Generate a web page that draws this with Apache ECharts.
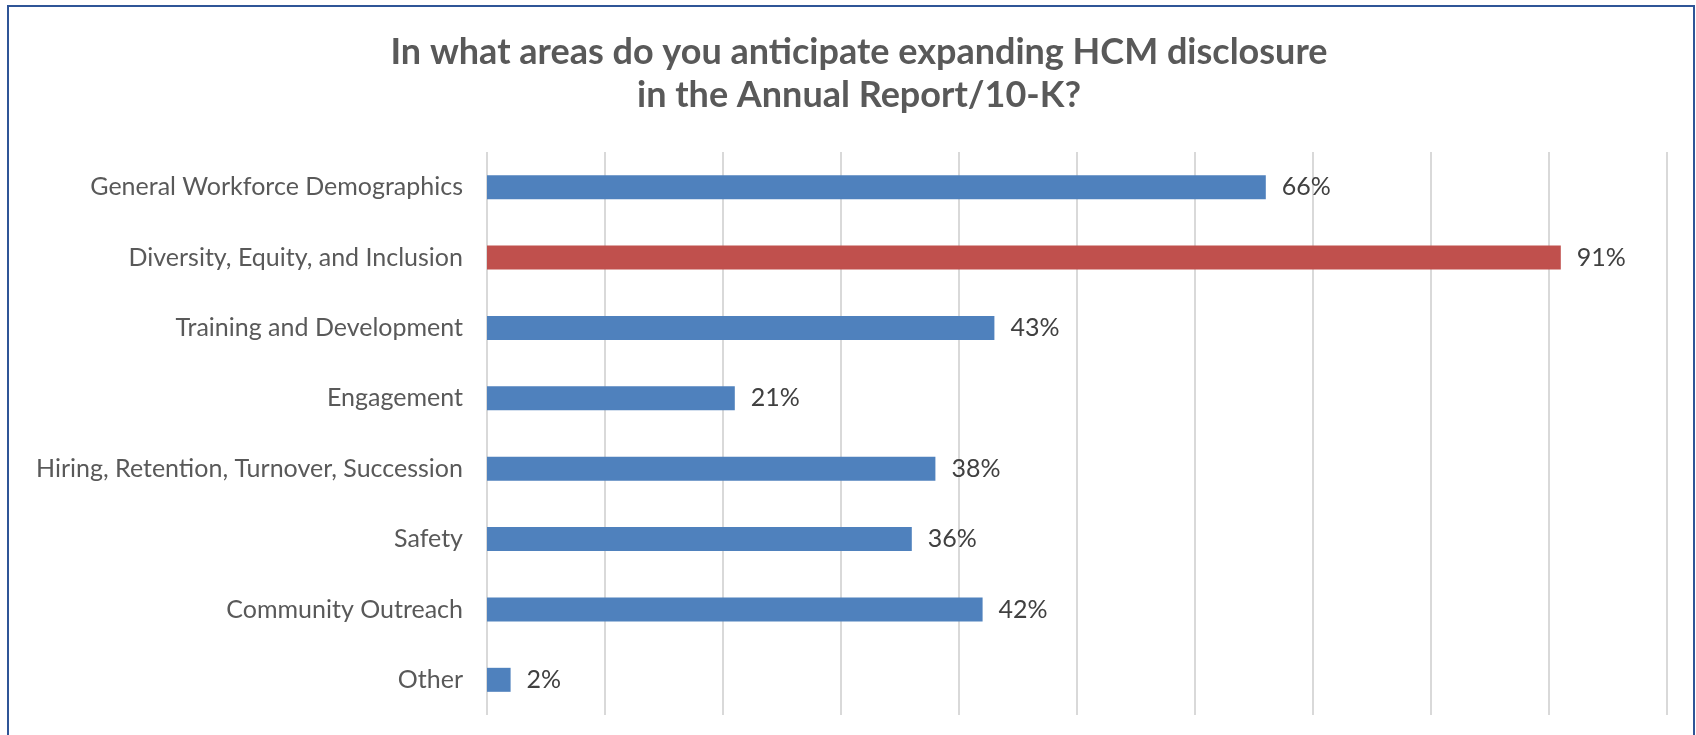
<!DOCTYPE html>
<html>
<head>
<meta charset="utf-8">
<script src="https://cdn.jsdelivr.net/npm/echarts@6/dist/echarts.min.js"></script>
<style>
  html, body { margin: 0; padding: 0; background: #ffffff; }
  #chart { width: 1696px; height: 735px; }
</style>
</head>
<body>
<div id="chart"></div>
<script>
// Survey responses: areas of planned HCM disclosure expansion
const categories = [
  'General Workforce Demographics',
  'Diversity, Equity, and Inclusion',
  'Training and Development',
  'Engagement',
  'Hiring, Retention, Turnover, Succession',
  'Safety',
  'Community Outreach',
  'Other'
];
const percentages = [66, 91, 43, 21, 38, 36, 42, 2];
const highlightCategory = 'Diversity, Equity, and Inclusion';

const titleLines = [
  'In what areas do you anticipate expanding HCM disclosure',
  'in the Annual Report/10-K?'
];

const BLUE = '#4F81BD';
const RED = '#C0504D';
const FONT = 'Lato, "Open Sans", sans-serif';

const chart = echarts.init(document.getElementById('chart'), null, { renderer: 'canvas' });

const barData = percentages.map((v, i) => ({
  value: v,
  itemStyle: { color: categories[i] === highlightCategory ? RED : BLUE }
}));

chart.setOption({
  animation: false,
  backgroundColor: '#ffffff',
  title: {
    text: titleLines.join('\n'),
    left: 854,
    textAlign: 'center',
    top: 26,
    textStyle: {
      fontFamily: FONT,
      fontSize: 36,
      fontWeight: 'bold',
      color: '#595959',
      lineHeight: 43
    }
  },
  graphic: [{
    type: 'rect',
    shape: { x: 8, y: 6, width: 1686, height: 740 },
    style: { fill: 'none', stroke: '#2F5597', lineWidth: 2 },
    silent: true
  }],
  grid: { left: 487, right: 29, top: 152, bottom: 20 },
  xAxis: {
    type: 'value',
    min: 0,
    max: 100,
    interval: 10,
    axisLabel: { show: false },
    axisLine: { show: false },
    axisTick: { show: false },
    splitLine: { show: true, lineStyle: { color: '#D9D9D9', width: 2 } }
  },
  yAxis: {
    type: 'category',
    data: categories,
    inverse: true,
    axisLine: { show: false },
    axisTick: { show: false },
    axisLabel: {
      margin: 24,
      fontFamily: FONT,
      fontSize: 25,
      color: '#595959'
    }
  },
  series: [{
    type: 'bar',
    data: barData,
    barWidth: 24,
    label: {
      show: true,
      position: 'right',
      distance: 16,
      formatter: p => p.value + '%',
      fontFamily: FONT,
      fontSize: 25,
      color: '#404040'
    }
  }]
});
</script>
</body>
</html>
